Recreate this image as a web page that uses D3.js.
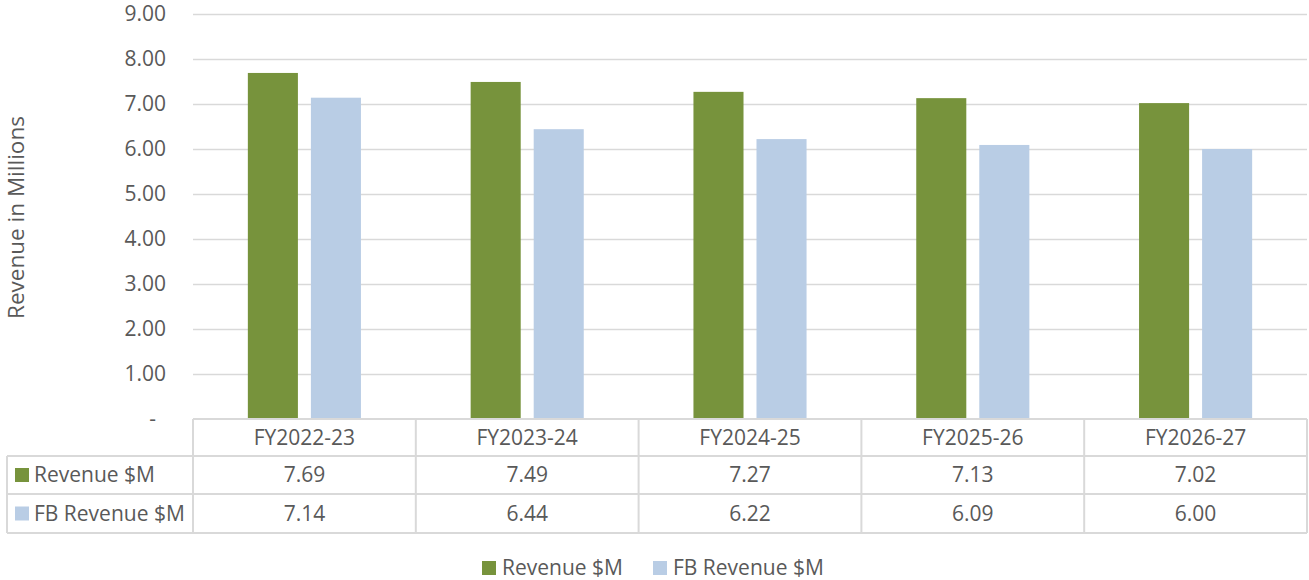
<!DOCTYPE html>
<html>
<head>
<meta charset="utf-8">
<script src="https://cdn.jsdelivr.net/npm/d3@7"></script>
<style>
  html, body { margin: 0; padding: 0; background: #fff; }
  svg text { font-family: "Open Sans", "Noto Sans", sans-serif; fill: #595959; }
</style>
</head>
<body>
<svg id="chart" width="1309" height="580"></svg>
<script>
// Fiscal years shown along the category axis
const categories = ["FY2022-23", "FY2023-24", "FY2024-25", "FY2025-26", "FY2026-27"];
// Series names and values (millions of dollars)
const seriesNames = ["Revenue $M", "FB Revenue $M"];
const revenue = [7.69, 7.49, 7.27, 7.13, 7.02];
const fbRevenue = [7.14, 6.44, 6.22, 6.09, 6.00];
// Value-axis ticks
const yTicks = [0, 1, 2, 3, 4, 5, 6, 7, 8, 9];

const colors = ["#77933C", "#B9CDE5"];
const seriesValues = [revenue, fbRevenue];
const fontSize = "21px";

const svg = d3.select("#chart");
const plot = { left: 193, right: 1307, top: 14, bottom: 419 };
const tableLeft = 7;
const rowBounds = [419, 456, 494, 533];

const x = d3.scaleBand().domain(categories).range([plot.left, plot.right]).paddingInner(0).paddingOuter(0);
const y = d3.scaleLinear().domain([0, 9]).range([plot.bottom, plot.top]);
const xInner = d3.scaleBand().domain(seriesNames).range([0, x.bandwidth()]).paddingInner(0.206).paddingOuter(0.87);

// Gridlines
svg.append("g")
  .selectAll("line")
  .data(yTicks.filter(d => d > 0))
  .join("line")
  .attr("x1", plot.left).attr("x2", plot.right)
  .attr("y1", d => Math.round(y(d)) + 0.5).attr("y2", d => Math.round(y(d)) + 0.5)
  .attr("stroke", "#D9D9D9").attr("stroke-width", 1.5);

// Value axis labels
const yAxis = d3.axisLeft(y).tickValues(yTicks).tickSize(0).tickPadding(0)
  .tickFormat(d => d === 0 ? "-" : d3.format(".2f")(d));
const yg = svg.append("g").attr("transform", `translate(${plot.left - 27},0)`).call(yAxis);
yg.select(".domain").remove();
yg.selectAll("text").style("font-size", fontSize).attr("fill", "#595959").attr("font-family", "Open Sans")
  .attr("dx", d => d === 0 ? "-10" : "0");

// Axis title
svg.append("text")
  .attr("transform", `translate(24,${(plot.top + plot.bottom) / 2 + 1}) rotate(-90)`)
  .attr("text-anchor", "middle")
  .style("font-size", "22.5px")
  .text("Revenue in Millions");

// Bars
const groups = svg.append("g").selectAll("g")
  .data(categories)
  .join("g")
  .attr("transform", d => `translate(${x(d)},0)`);

groups.selectAll("rect")
  .data((c, i) => seriesNames.map((s, j) => ({ s, v: seriesValues[j][i], j })))
  .join("rect")
  .attr("x", d => xInner(d.s))
  .attr("width", xInner.bandwidth())
  .attr("y", d => y(d.v))
  .attr("height", d => y(0) - y(d.v))
  .attr("fill", d => colors[d.j]);

// Data table
const tg = svg.append("g");
const lineStyle = sel => sel.attr("stroke", "#D9D9D9").attr("stroke-width", 2);

// horizontal rules
tg.append("line").attr("x1", plot.left).attr("x2", plot.right).attr("y1", rowBounds[0]).attr("y2", rowBounds[0]).call(lineStyle);
rowBounds.slice(1).forEach(yy => {
  tg.append("line").attr("x1", tableLeft).attr("x2", plot.right).attr("y1", yy).attr("y2", yy).call(lineStyle);
});
// vertical rules
const colEdges = categories.map(c => x(c)).concat([plot.right]);
colEdges.forEach(xx => {
  tg.append("line").attr("x1", xx).attr("x2", xx).attr("y1", rowBounds[0]).attr("y2", rowBounds[3]).call(lineStyle);
});
tg.append("line").attr("x1", tableLeft).attr("x2", tableLeft).attr("y1", rowBounds[1]).attr("y2", rowBounds[3]).call(lineStyle);

// header row
tg.selectAll("text.hdr")
  .data(categories)
  .join("text")
  .attr("class", "hdr")
  .attr("x", d => x(d) + x.bandwidth() / 2)
  .attr("y", (rowBounds[0] + rowBounds[1]) / 2 + 7)
  .attr("text-anchor", "middle")
  .style("font-size", fontSize)
  .text(d => d);

// series rows
seriesNames.forEach((s, j) => {
  const top = rowBounds[j + 1], bot = rowBounds[j + 2];
  const mid = (top + bot) / 2;
  tg.append("rect").attr("x", 15).attr("y", mid - 7).attr("width", 14).attr("height", 14).attr("fill", colors[j]);
  tg.append("text").attr("x", 34).attr("y", mid + 7).style("font-size", fontSize).text(s);
  tg.selectAll(null)
    .data(seriesValues[j])
    .join("text")
    .attr("x", (d, i) => x(categories[i]) + x.bandwidth() / 2)
    .attr("y", mid + 7)
    .attr("text-anchor", "middle")
    .style("font-size", fontSize)
    .text(d => d3.format(".2f")(d));
});

// Legend
const legendItems = [{ name: seriesNames[0], x: 482 }, { name: seriesNames[1], x: 653 }];
const lg = svg.append("g");
legendItems.forEach((it, j) => {
  lg.append("rect").attr("x", it.x).attr("y", 561).attr("width", 14).attr("height", 14).attr("fill", colors[j]);
  lg.append("text").attr("x", it.x + 20).attr("y", 575).style("font-size", fontSize).text(it.name);
});
</script>
</body>
</html>
